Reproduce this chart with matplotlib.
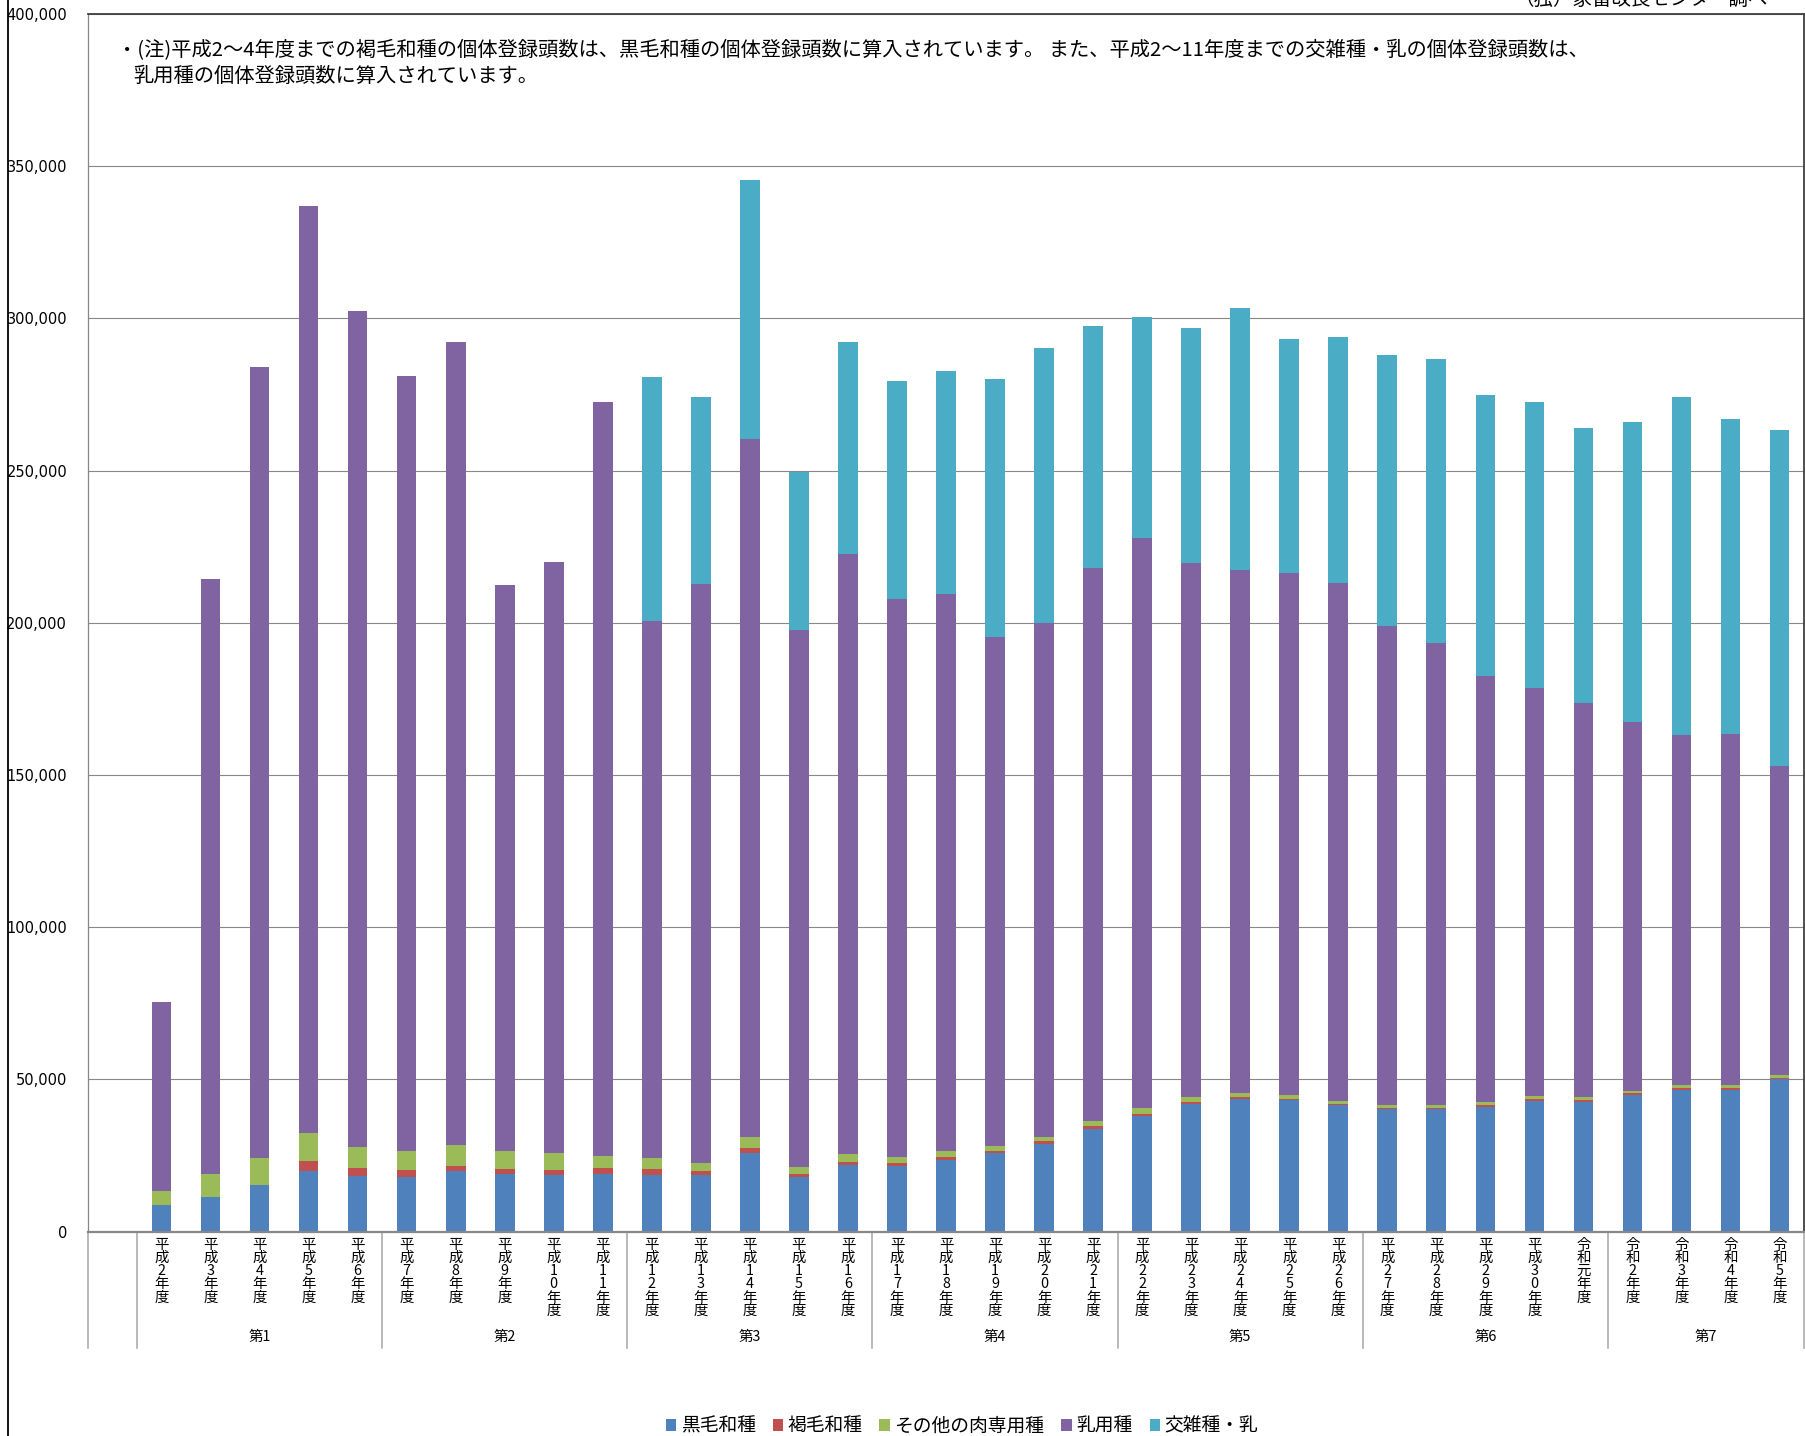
"""
Registered cattle head counts by breed and fiscal year (stacked bars).
"""
import matplotlib.pyplot as plt
import numpy as np
from matplotlib.lines import Line2D

plt.rcParams.update({
    "font.family": ["Noto Sans CJK JP", "DejaVu Sans"],
    "font.size": 10,
    "figure.dpi": 100,
})

W, H = 1806, 1436

years = [
    "平成2年度", "平成3年度", "平成4年度", "平成5年度", "平成6年度",
    "平成7年度", "平成8年度", "平成9年度", "平成10年度", "平成11年度",
    "平成12年度", "平成13年度", "平成14年度", "平成15年度", "平成16年度",
    "平成17年度", "平成18年度", "平成19年度", "平成20年度", "平成21年度",
    "平成22年度", "平成23年度", "平成24年度", "平成25年度", "平成26年度",
    "平成27年度", "平成28年度", "平成29年度", "平成30年度", "令和元年度",
    "令和2年度", "令和3年度", "令和4年度", "令和5年度",
]
groups = ["第1", "第2", "第3", "第4", "第5", "第6", "第7"]
group_sizes = [5, 5, 5, 5, 5, 5, 4]

series_names = ["黒毛和種", "褐毛和種", "その他の肉専用種", "乳用種", "交雑種・乳"]
series_colors = ["#4F81BD", "#C0504D", "#9BBB59", "#8064A2", "#4BACC6"]

kuroge = [8900, 11500, 15400, 20100, 18200, 18100, 19800, 19000, 18700, 19100,
          18700, 18500, 26000, 17900, 21800, 21500, 23400, 25700, 28900, 33800,
          38100, 42000, 43600, 43100, 41500, 40200, 40200, 40800, 43000, 42700,
          44900, 46700, 46700, 50100]
akage = [0, 0, 0, 3000, 2600, 2300, 1900, 1700, 1600, 1700,
         1900, 1500, 1600, 1100, 1200, 1100, 1000, 900, 900, 800,
         700, 650, 550, 550, 550, 550, 550, 750, 750, 550,
         750, 550, 650, 550]
other_beef = [4400, 7500, 8800, 9400, 7000, 6000, 6700, 5800, 5400, 4100,
              3600, 2700, 3400, 2300, 2500, 2100, 2000, 1400, 1400, 1800,
              1750, 1550, 1550, 1300, 1000, 900, 900, 1000, 800, 900,
              650, 850, 750, 750]
dairy = [62000, 195500, 260000, 304300, 274500, 254800, 263700, 185800, 194200, 247500,
         176400, 190000, 229300, 176200, 197000, 183000, 183200, 167300, 168600, 181600,
         187250, 175300, 171500, 171450, 169950, 157350, 151750, 139850, 134050, 129550,
         121000, 115100, 115400, 101500]
cross = [0, 0, 0, 0, 0, 0, 0, 0, 0, 0,
         80200, 61600, 85200, 52200, 69600, 71600, 73100, 84700, 90400, 79400,
         72600, 77200, 86300, 76900, 81000, 89000, 93400, 92300, 93800, 90400,
         98700, 111100, 103600, 110400]

note1 = ("・(注)平成2～4年度までの褐毛和種の個体登録頭数は、黒毛和種の個体登録頭数に算入されています。"
         " また、平成2～11年度までの交雑種・乳の個体登録頭数は、")
note2 = "乳用種の個体登録頭数に算入されています。"
source = "（独）家畜改良センター調べ"


def fx(px):
    return px / W


def fy(py):
    return 1 - py / H


def main():
    fig = plt.figure(figsize=(W / 100, H / 100), dpi=100)
    ax = fig.add_axes([fx(88), fy(1231.7), fx(1804 - 88), (1231.7 - 14) / H])

    data = [kuroge, akage, other_beef, dairy, cross]
    x = np.arange(1, len(years) + 1) + 0.5
    bottom = np.zeros(len(years))
    handles = []
    for name, vals, col in zip(series_names, data, series_colors):
        vals = np.array(vals, dtype=float)
        b = ax.bar(x, vals, 0.4, bottom=bottom, color=col, linewidth=0,
                   label=name, zorder=3)
        handles.append(b)
        bottom += vals

    ax.set_xlim(0, len(years) + 1)
    ax.set_ylim(0, 400000)
    ax.set_yticks(np.arange(0, 400001, 50000))
    ax.set_yticklabels([f"{v:,}" for v in range(0, 400001, 50000)],
                       family="DejaVu Sans", fontsize=10.5)
    ax.tick_params(axis="y", length=0, pad=15)
    ax.set_xticks([])
    ax.yaxis.grid(True, color="#878787", lw=0.8, zorder=1)

    for side in ("top", "right"):
        ax.spines[side].set_color("#404040")
        ax.spines[side].set_linewidth(1.3)
    ax.spines["left"].set_color("#878787")
    ax.spines["left"].set_linewidth(0.9)
    ax.spines["bottom"].set_color("#878787")
    ax.spines["bottom"].set_linewidth(1.6)
    ax.spines["bottom"].set_zorder(4)

    # category labels, one character per line
    tr = ax.get_xaxis_transform()
    for xi, lab in zip(x, years):
        ax.annotate("\n".join(lab), xy=(xi, 0), xycoords=tr,
                    xytext=(0, -6), textcoords="offset pixels",
                    ha="center", va="top", fontsize=10.4, linespacing=0.93)

    # group separators and labels
    depth = 116 / (1231.7 - 14)
    bounds = [0, 1]
    for n in group_sizes:
        bounds.append(bounds[-1] + n)
    for bx in bounds:
        ax.add_line(Line2D([bx, bx], [0, -depth], transform=tr, clip_on=False,
                           color="#a6a6a6", lw=1.1))
    for g, lo, hi in zip(groups, bounds[1:-1], bounds[2:]):
        ax.annotate(g, xy=((lo + hi) / 2, 0), xycoords=tr,
                    xytext=(0, -105), textcoords="offset pixels",
                    ha="center", va="center", fontsize=10.4)

    # note text inside plot area
    fig.text(fx(117), fy(51), note1, fontsize=14.6, ha="left", va="center")
    fig.text(fx(133), fy(76), note2, fontsize=14.6, ha="left", va="center")
    fig.text(fx(1768), fy(-1), source, fontsize=14, ha="right", va="center")

    # left border of chart area
    fig.add_artist(Line2D([fx(8), fx(8)], [0, 1], transform=fig.transFigure,
                          color="black", lw=1.3))

    fig.legend(handles=handles, labels=series_names, loc="center", ncol=5,
               bbox_to_anchor=(fx(962), fy(1426)), frameon=False, fontsize=13.5,
               handlelength=0.55, handleheight=0.55, handletextpad=0.25,
               columnspacing=0.9, borderaxespad=0, borderpad=0)

    fig.savefig("out.png", dpi=100)
    plt.close(fig)


if __name__ == "__main__":
    main()
